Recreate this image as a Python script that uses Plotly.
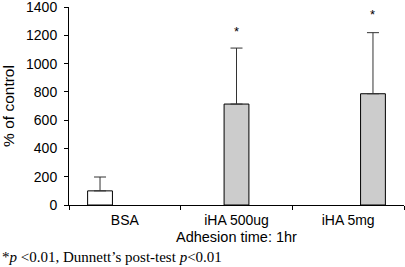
import plotly.graph_objects as go

categories = ["BSA", "iHA 500ug", "iHA 5mg"]
values = [100, 714, 787]
errors = [98, 396, 432]
fills = ["#ffffff", "#cccccc", "#cccccc"]
star_y = [None, 1228, 1345]
y_ticks = [0, 200, 400, 600, 800, 1000, 1200, 1400]

bar_w = 1 / 4.5
offsets = [-1.5 * bar_w, -0.5 * bar_w, 0.5 * bar_w]

fig = go.Figure()
for i, c in enumerate(categories):
    fig.add_trace(go.Bar(
        x=[c], y=[values[i]], name=c, width=bar_w, offset=offsets[i],
        marker=dict(color=fills[i], line=dict(color="#000000", width=1)),
        error_y=dict(type="data", array=[errors[i]], symmetric=False,
                     arrayminus=[0], color="#333333", thickness=1, width=6),
    ))

for i, c in enumerate(categories):
    if star_y[i] is not None:
        fig.add_annotation(x=i + offsets[i] + bar_w / 2, y=star_y[i], xref="x", yref="y",
                           text="*", showarrow=False,
                           font=dict(family="Liberation Sans", size=13, color="#000"))

fig.add_annotation(x=0.5, y=(205 - 237) / 198, xref="paper", yref="paper", yanchor="middle",
                   text="Adhesion time: 1hr", showarrow=False,
                   font=dict(family="Liberation Sans", size=14.5, color="#000"))
fig.add_annotation(x=-69/335, y=(205 - 257) / 198, xref="paper", yref="paper",
                   xanchor="left", yanchor="middle",
                   text="*<i>p</i> &lt;0.01, Dunnett’s post-test <i>p</i>&lt;0.01",
                   showarrow=False,
                   font=dict(family="Liberation Serif", size=15, color="#000"))

fig.update_layout(
    width=405, height=267,
    margin=dict(l=69, r=1, t=7, b=62),
    barmode="overlay",
    showlegend=False,
    plot_bgcolor="#ffffff", paper_bgcolor="#ffffff",
    font=dict(family="Liberation Sans", size=14, color="#000"),
)
fig.update_xaxes(showline=True, linecolor="#000", linewidth=1,
                 ticks="outside", ticklen=4, tickcolor="#000",
                 tickson="boundaries", showgrid=False, zeroline=False,
                 ticklabelstandoff=2, automargin=False)
fig.update_yaxes(range=[0, 1400.5], tickvals=y_ticks, showline=True,
                 linecolor="#000", linewidth=1, ticks="outside", ticklen=4,
                 tickcolor="#000", showgrid=False, zeroline=False,
                 ticklabelstandoff=4, automargin=False, ticklabeloverflow="allow",
                 title=dict(text="% of control", standoff=12, font=dict(size=15.5)))

fig.write_html("out.html", config={"displayModeBar": False},
               post_script="document.body.style.margin='0';")
